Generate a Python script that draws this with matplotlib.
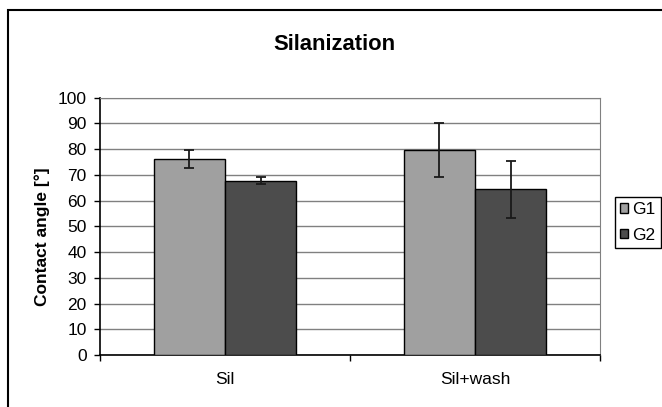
import matplotlib
matplotlib.use('Agg')
import matplotlib.pyplot as plt
from matplotlib.patches import Rectangle
import numpy as np

plt.rcParams['font.family'] = ['Liberation Sans', 'DejaVu Sans']

#### data ####
categories = ['Sil', 'Sil+wash']
series = ['G1', 'G2']
g1_vals = [76.1, 79.6]
g1_err = [3.5, 10.6]
g2_vals = [67.7, 64.3]
g2_err = [1.45, 11.2]
colors = ['#a0a0a0', '#4c4c4c']

W, H = 662, 407
fig = plt.figure(figsize=(W / 100, H / 100), dpi=100)
ax = fig.add_axes([100 / W, 1 - 355 / H, 500 / W, (355 - 97.5) / H])

x = np.arange(len(categories))
bw = 0.2857
for i, (vals, errs) in enumerate([(g1_vals, g1_err), (g2_vals, g2_err)]):
    ax.bar(x + (i - 0.5) * bw, vals, bw, color=colors[i], edgecolor='black',
           linewidth=1, label=series[i], zorder=3)
    ax.errorbar(x + (i - 0.5) * bw, vals, yerr=errs, fmt='none', ecolor='#1a1a1a',
                elinewidth=1.3, capsize=3.6, capthick=1.3, zorder=4)

ax.set_xlim(-0.5, 1.5)
ax.set_ylim(0, 100)
ax.set_yticks(np.arange(0, 101, 10))
ax.yaxis.grid(True, color='#808080', linewidth=1, zorder=0)
ax.set_axisbelow(True)

# category boundaries as major ticks, labels on minor ticks
ax.set_xticks([-0.5, 0.5, 1.5])
ax.set_xticklabels([])
ax.set_xticks(x, minor=True)
ax.set_xticklabels(categories, minor=True)
ax.tick_params(axis='x', which='minor', length=0, pad=12, labelsize=12.5)
ax.tick_params(axis='x', which='major', length=4, width=1, direction='out')
ax.tick_params(axis='y', length=4, width=1, direction='out', pad=5.5, labelsize=12.5)

for s in ['top', 'right']:
    ax.spines[s].set_color('#808080')
for s in ['left', 'bottom']:
    ax.spines[s].set_color('black')
    ax.spines[s].set_linewidth(1.2)

fig.text(0.505, 1 - 45 / H, 'Silanization', ha='center', va='center',
         fontsize=15.8, fontweight='bold')
fig.text(42 / W, 1 - 237 / H, 'Contact angle [°]', ha='center', va='center',
         rotation=90, fontsize=12.5, fontweight='bold')

leg = ax.legend(loc='upper left', bbox_to_anchor=(615 / W, 1 - 197 / H),
                bbox_transform=fig.transFigure, borderaxespad=0, fontsize=12.5,
                handlelength=0.45, handleheight=0.45, handletextpad=0.25,
                labelspacing=0.6, borderpad=0.3, fancybox=False, framealpha=1)
leg.get_frame().set_edgecolor('black')
leg.get_frame().set_linewidth(1)

# chart area border (cut off on right and bottom)
fig.add_artist(Rectangle((8 / W, -0.5), 2, 1.5 - 10 / H, transform=fig.transFigure,
                         fill=False, edgecolor='black', linewidth=1.5))

fig.savefig('out.png', dpi=100)
plt.close()
